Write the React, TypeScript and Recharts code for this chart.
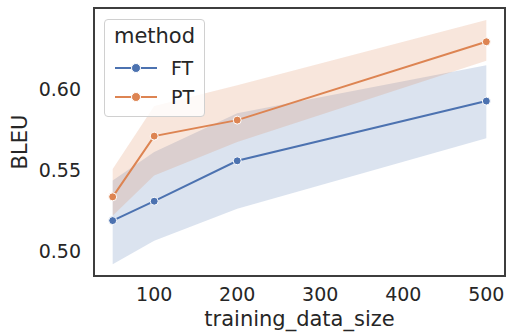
import { ComposedChart, Area, Line, XAxis, YAxis, Legend, ReferenceArea } from "recharts";

// training_data_size values and BLEU readings (mean + 95% CI band)
const sizes = [50, 100, 200, 500];
const ftMean = [0.519, 0.531, 0.556, 0.593];
const ftLow = [0.492, 0.5065, 0.5264, 0.570];
const ftHigh = [0.5438, 0.5614, 0.5854, 0.6152];
const ptMean = [0.5337, 0.5713, 0.5812, 0.6297];
const ptLow = [0.522, 0.5469, 0.5676, 0.618];
const ptHigh = [0.551, 0.590, 0.6028, 0.6432];

const xTicks = [100, 200, 300, 400, 500];
const yTicks = [0.5, 0.55, 0.6];
const xDomain = [27.5, 522.5];
const yDomain = [0.4847, 0.6506];

const FT_COLOR = "#4c72b0";
const PT_COLOR = "#dd8452";
const TEXT = "#262626";
const EDGE = "#3d3d3d";
const FONT = "DejaVu Sans, sans-serif";

const series = [
  { name: "FT", color: FT_COLOR },
  { name: "PT", color: PT_COLOR },
];

const rows = sizes.map((size, i) => ({
  size,
  ft: ftMean[i],
  ftBand: [ftLow[i], ftHigh[i]],
  pt: ptMean[i],
  ptBand: [ptLow[i], ptHigh[i]],
}));

function MethodLegend() {
  return (
    <div
      style={{
        width: 99,
        height: 96,
        border: "1px solid #d0d0d0",
        borderRadius: 4,
        background: "rgba(255,255,255,0.8)",
        fontFamily: FONT,
        color: TEXT,
        boxSizing: "content-box",
      }}
    >
      <div style={{ fontSize: 21, textAlign: "center", lineHeight: "24px", marginTop: 4 }}>
        method
      </div>
      <div style={{ marginTop: 5 }}>
        {series.map((s) => (
          <div key={s.name} style={{ display: "flex", alignItems: "center", height: 29 }}>
            <svg width={60} height={20} style={{ marginLeft: 6 }}>
              <line x1={4} y1={10} x2={46} y2={10} stroke={s.color} strokeWidth={2} />
              <circle cx={25} cy={10} r={4.5} fill={s.color} stroke="#fff" strokeWidth={1} />
            </svg>
            <span style={{ fontSize: 19 }}>{s.name}</span>
          </div>
        ))}
      </div>
    </div>
  );
}

export default function App() {
  return (
    <div style={{ position: "absolute", left: 0, top: 0, width: 506, height: 336, background: "#fff" }}>
      <ComposedChart
        width={506}
        height={336}
        data={rows}
        margin={{ top: 8, right: 1, bottom: 0, left: 0 }}
      >
        <XAxis
          dataKey="size"
          type="number"
          domain={xDomain}
          ticks={xTicks}
          allowDataOverflow
          height={60}
          tickLine={false}
          tickSize={0}
          tickMargin={12}
          axisLine={false}
          tick={{ fontSize: 19, fill: TEXT, fontFamily: FONT }}
          label={{
            value: "training_data_size",
            position: "insideBottom",
            offset: 10,
            style: { fontSize: 21, fill: TEXT, fontFamily: FONT },
          }}
        />
        <YAxis
          type="number"
          domain={yDomain}
          ticks={yTicks}
          allowDataOverflow
          width={94}
          tickLine={false}
          tickSize={0}
          tickMargin={13}
          tickFormatter={(v: number) => v.toFixed(2)}
          axisLine={false}
          tick={{ fontSize: 19, fill: TEXT, fontFamily: FONT }}
          label={{
            value: "BLEU",
            angle: -90,
            position: "insideLeft",
            offset: 20,
            style: { fontSize: 21, fill: TEXT, fontFamily: FONT, textAnchor: "middle" },
          }}
        />
        <Area
          type="linear"
          dataKey="ftBand"
          fill={FT_COLOR}
          fillOpacity={0.2}
          stroke="none"
          dot={false}
          activeDot={false}
          isAnimationActive={false}
        />
        <Area
          type="linear"
          dataKey="ptBand"
          fill={PT_COLOR}
          fillOpacity={0.2}
          stroke="none"
          dot={false}
          activeDot={false}
          isAnimationActive={false}
        />
        <Line
          type="linear"
          dataKey="ft"
          stroke={FT_COLOR}
          strokeWidth={2}
          dot={{ r: 4, fill: FT_COLOR, stroke: "#fff", strokeWidth: 1 }}
          activeDot={false}
          isAnimationActive={false}
        />
        <Line
          type="linear"
          dataKey="pt"
          stroke={PT_COLOR}
          strokeWidth={2}
          dot={{ r: 4, fill: PT_COLOR, stroke: "#fff", strokeWidth: 1 }}
          activeDot={false}
          isAnimationActive={false}
        />
        {/* axes frame (all four spines) */}
        <ReferenceArea
          x1={xDomain[0]}
          x2={xDomain[1]}
          y1={yDomain[0]}
          y2={yDomain[1]}
          ifOverflow="visible"
          fill="none"
          stroke={EDGE}
          strokeWidth={2}
        />
        <Legend
          layout="vertical"
          align="center"
          verticalAlign="middle"
          wrapperStyle={{ left: 104, top: 19, width: 101, height: 98 }}
          content={() => <MethodLegend />}
        />
      </ComposedChart>
    </div>
  );
}
